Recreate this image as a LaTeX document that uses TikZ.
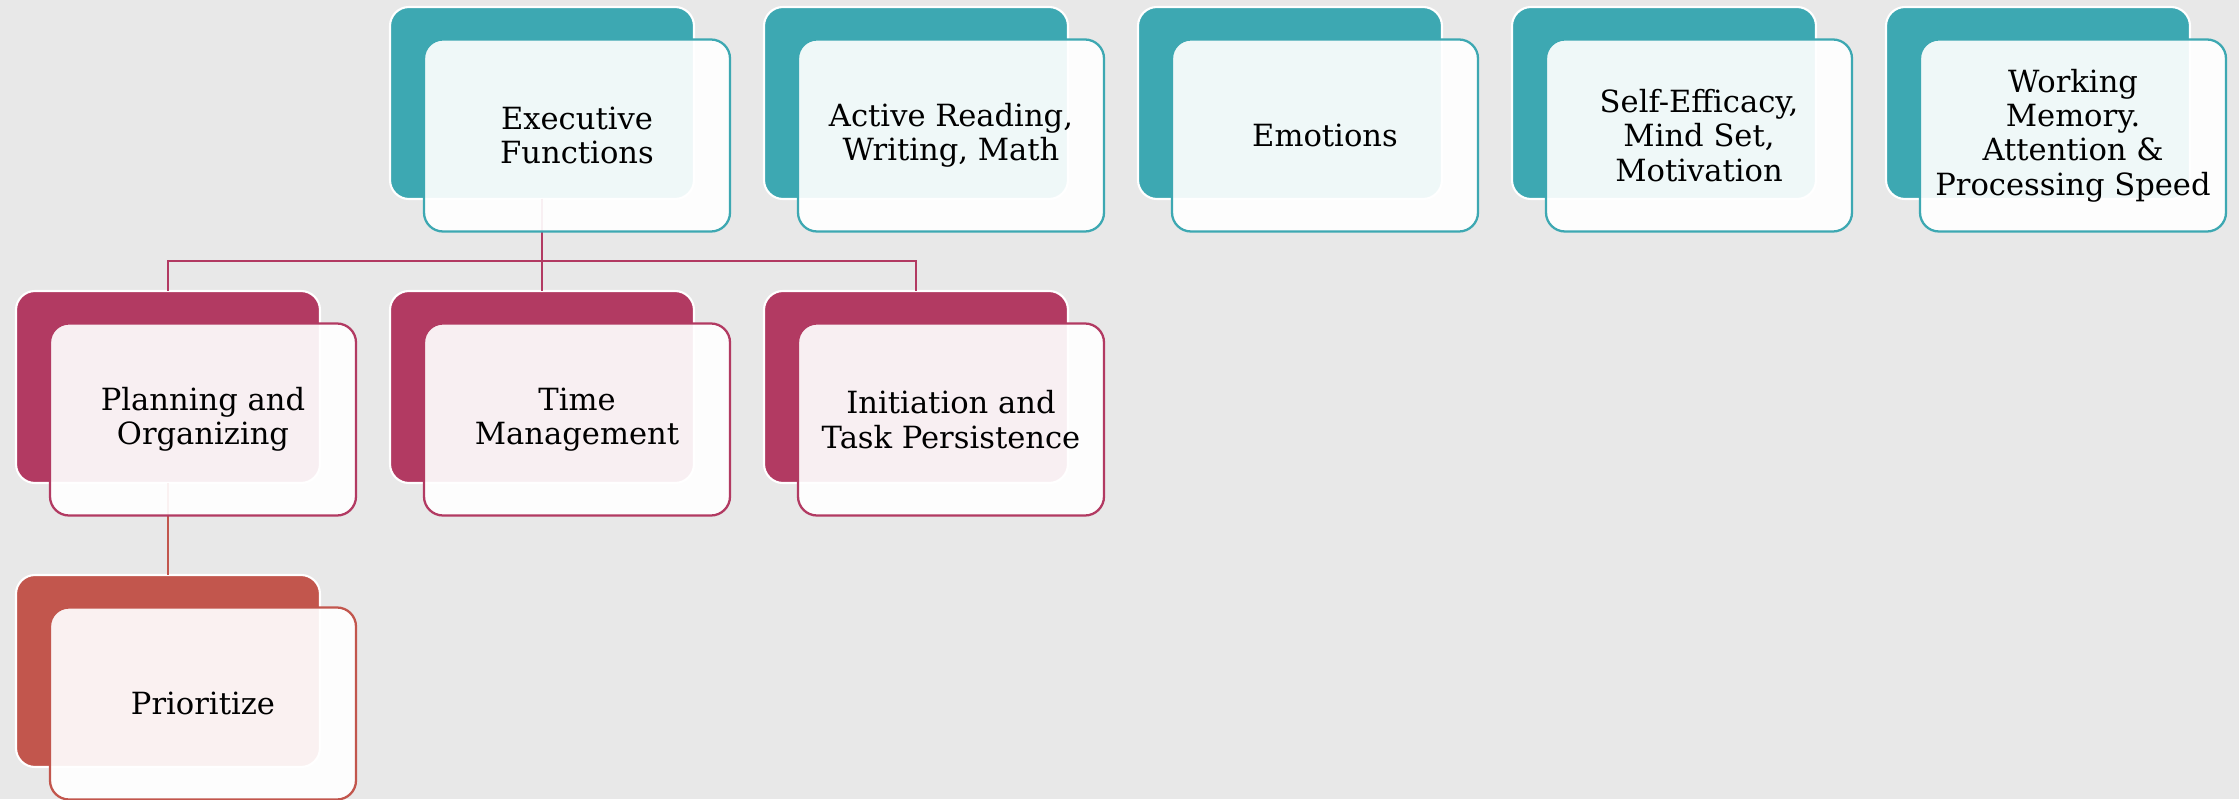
\documentclass[tikz,border=0pt]{standalone}
\usepackage{fontspec}
\setmainfont{DejaVu Serif}
\usepackage{tikz}
\usetikzlibrary{positioning}
\usepackage{xcolor}

\definecolor{bgGray}{RGB}{232,232,232}
\definecolor{cardTeal}{RGB}{61,168,178}
\definecolor{cardMag}{RGB}{178,58,98}
\definecolor{cardRed}{RGB}{194,86,77}

\tikzset
  {
    backCard/.style=  {rounded corners=0.19cm, draw=white, line width=0.6pt,
                       minimum width=3.04cm, minimum height=1.92cm, inner sep=0pt, outer sep=0pt},
    frontCard/.style= {rounded corners=0.19cm, fill=white, fill opacity=0.92, text opacity=1,
                       line width=0.65pt, minimum width=3.06cm, minimum height=1.92cm,
                       inner sep=0pt, outer sep=0pt, align=center,
                       font=\fontsize{8.7}{9.8}\selectfont},
    link/.style=      {line width=0.6pt}
  }

\begin{document}
\begin{tikzpicture}

\useasboundingbox (0,0) rectangle (22.39,7.99);
\fill[bgGray] (0,0) rectangle (22.39,7.99);

% back cards
\foreach \name/\x in {ef/5.42, ar/9.16, em/12.90, se/16.64, wm/20.38}
\node[backCard, fill=cardTeal] (\name) at (\x,6.96) {};

\foreach \name/\x in {po/1.68, tm/5.42, ia/9.16}
\node[backCard, fill=cardMag] (\name) at (\x,4.12) {};

\node[backCard, fill=cardRed] (pr) at (1.68,1.28) {};

% connectors
\coordinate (efJoin) at (5.42,5.38);

\draw[link, cardMag] (ef.south) -- (efJoin) -| (po.north);
\draw[link, cardMag] (efJoin) -- (tm.north);
\draw[link, cardMag] (efJoin) -| (ia.north);
\draw[link, cardRed] (po.south) -- (pr.north);

% front cards with the text
\node[frontCard, draw=cardTeal] (efText) at (5.77,6.635) {Executive\\Functions};
\node[frontCard, draw=cardTeal] (arText) at (9.51,6.635) {Active Reading,\\Writing, Math};
\node[frontCard, draw=cardTeal] (emText) at (13.25,6.635) {Emotions};
\node[frontCard, draw=cardTeal] (seText) at (16.99,6.635) {Self-Efficacy,\\Mind Set,\\Motivation};
\node[frontCard, draw=cardTeal] (wmText) at (20.73,6.635) {Working\\Memory.\\Attention \&\\Processing Speed};

\node[frontCard, draw=cardMag] (poText) at (2.03,3.795) {Planning and\\Organizing};
\node[frontCard, draw=cardMag] (tmText) at (5.77,3.795) {Time\\Management};
\node[frontCard, draw=cardMag] (iaText) at (9.51,3.795) {Initiation and\\Task Persistence};

\node[frontCard, draw=cardRed] (prText) at (2.03,0.955) {Prioritize};

\end{tikzpicture}
\end{document}
